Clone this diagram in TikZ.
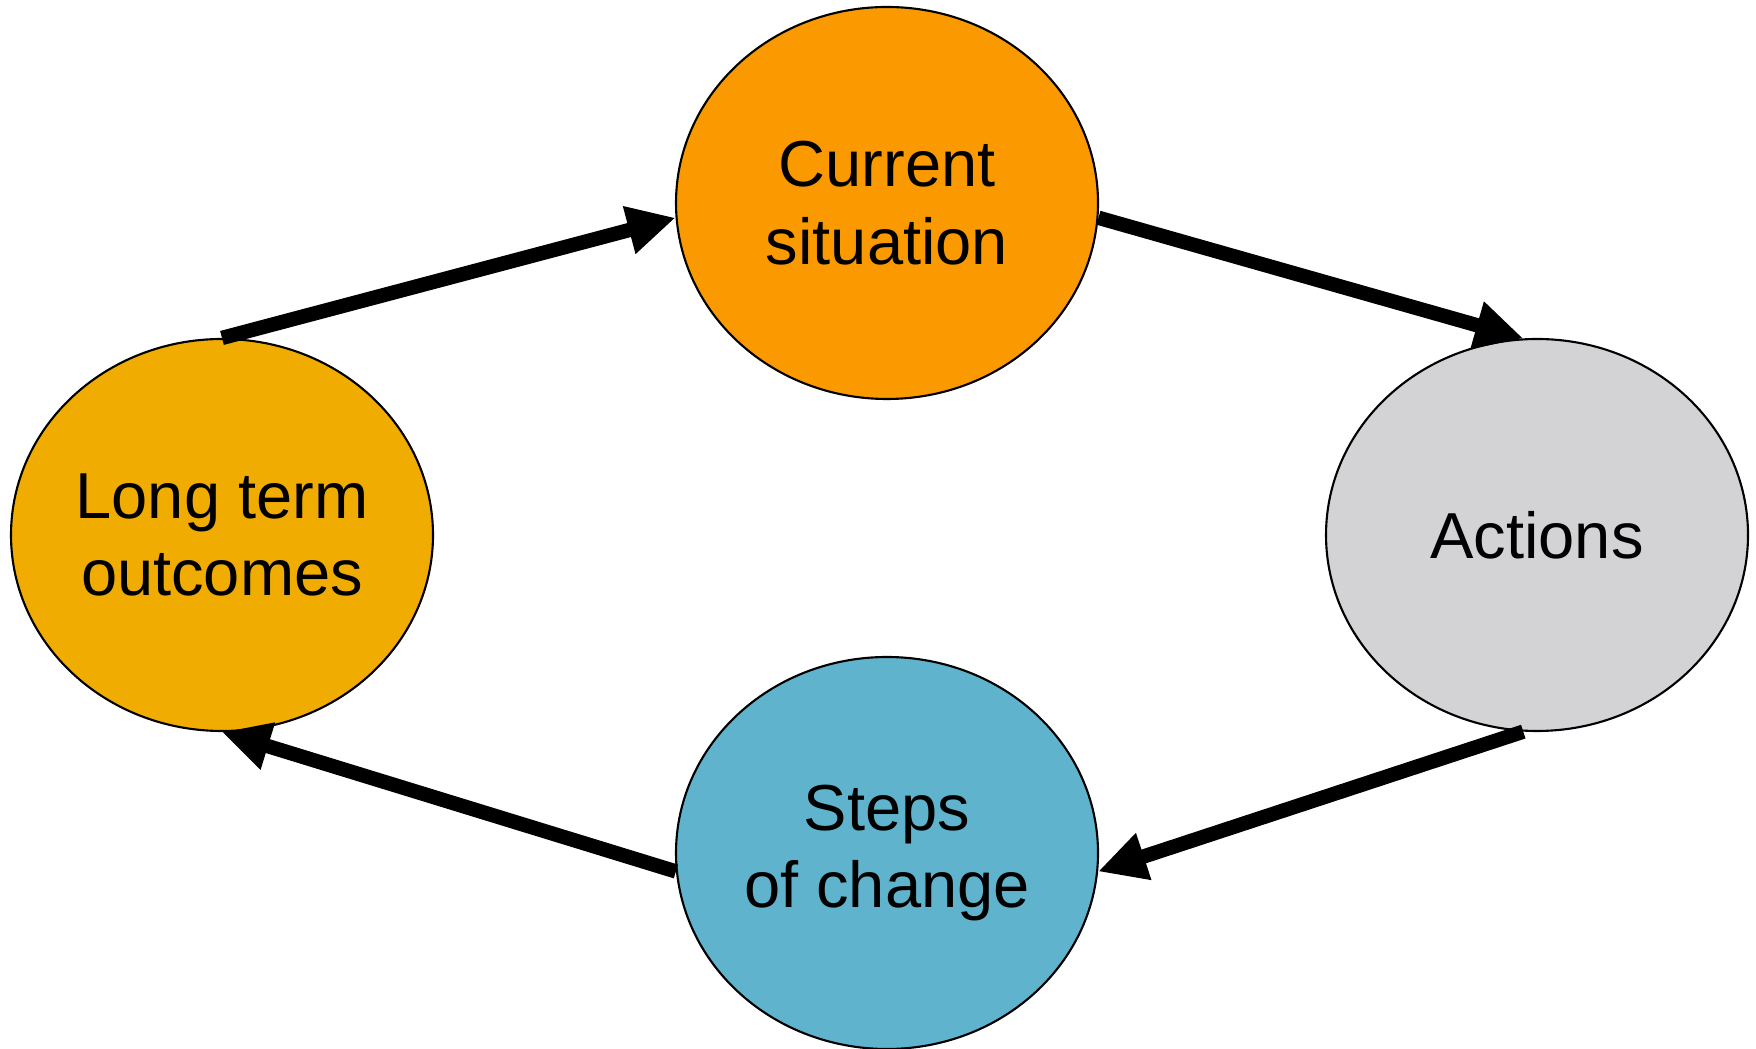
\documentclass[tikz,border=0pt]{standalone}
\usepackage{fontspec}
\setmainfont{Liberation Sans}
\usetikzlibrary{shapes.geometric,arrows.meta}
\definecolor{orangeA}{RGB}{250,154,0}
\definecolor{goldA}{RGB}{240,172,0}
\definecolor{greyA}{RGB}{211,211,213}
\definecolor{blueA}{RGB}{96,179,204}
\begin{document}
\begin{tikzpicture}[
  stage/.style={ellipse, draw=black, line width=0.6pt, minimum width=4.22cm,
    minimum height=3.92cm, inner sep=0pt, align=center,
    font=\fontsize{18.5}{22}\selectfont},
  flow/.style={line width=4.1pt,
    -{Triangle[length=0.48cm,width=0.46cm]}}
]
\useasboundingbox (0,0) rectangle (17.56,10.48);
\node[stage, fill=orangeA] (cur) at (8.87,8.45) {Current\\situation};
\node[stage, fill=goldA] (long) at (2.22,5.13) {Long term\\outcomes};
\node[stage, fill=greyA] (act) at (15.37,5.13) {Actions};
\node[stage, fill=blueA] (steps) at (8.87,1.95) {Steps\\of change};
\draw[flow] (long.north) -- (cur.184);
\draw[flow] (cur.356) -- (act.94);
\draw[flow] (act.266) -- (steps.355);
\draw[flow] (steps.185) -- (long.south);
\end{tikzpicture}
\end{document}
